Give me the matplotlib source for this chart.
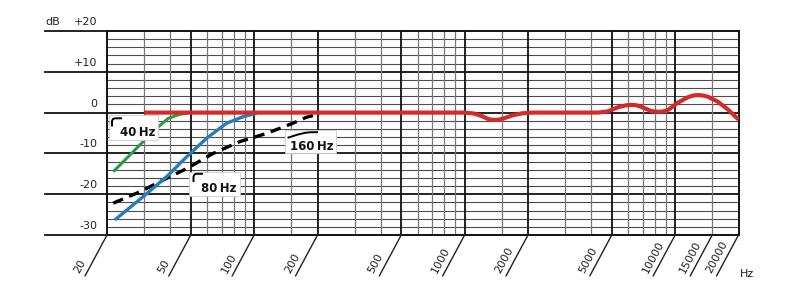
import numpy as np
import matplotlib.pyplot as plt
from matplotlib.patches import Rectangle
from matplotlib.transforms import Affine2D, blended_transform_factory, offset_copy

W, H = 785, 306

# values (frequency in Hz, level in dB)
red_f = [30, 500, 1000, 1100, 1200, 1290, 1340, 1390, 1450, 1520, 1670, 1860, 2100, 3000, 4300,
         4790, 5340, 5800, 6180, 6550, 6900, 7690, 8050, 8430, 8800, 9230, 10290, 11480,
         12100, 12800, 13500, 14280, 15920, 17780, 20000]
red_db = [0, 0, 0, -0.2, -0.8, -1.55, -1.75, -1.8, -1.75, -1.5, -0.75, -0.2, 0, 0, 0,
          0.3, 1.3, 1.75, 1.9, 1.8, 1.4, 0.4, 0.25, 0.2, 0.3, 0.6, 2.4, 3.75,
          4.15, 4.3, 4.2, 3.9, 2.7, 0.8, -1.7]

green_f = [21.4, 24.8, 29.7, 34.4, 39.1, 44.4, 47.9]
green_db = [-14.5, -11.2, -7.1, -3.85, -1.4, -0.4, -0.2]

blue_f = [21.8, 29.7, 38.4, 47.9, 59.4, 74, 88.7, 102.7]
blue_db = [-26.3, -20.6, -15.7, -10.8, -6.3, -2.6, -1.0, -0.2]

black_f = [21.4, 28.7, 38.4, 47.9, 63.9, 85.6, 114.6, 153, 177, 205]
black_db = [-22.2, -19.4, -16.1, -13.7, -10, -7.1, -5.1, -2.6, -1.15, -0.3]

major_f = [50, 100, 200, 500, 1000, 2000, 5000, 10000]
minor_f = [30, 40, 60, 70, 80, 90, 150, 300, 400, 600, 700, 800, 900, 1500,
           3000, 4000, 6000, 7000, 8000, 9000, 15000]
tick_f = [20, 50, 100, 200, 500, 1000, 2000, 5000, 10000, 15000, 20000]
tick_labels = ['20', '50', '100', '200', '500', '1000', '2000', '5000', '10000', '15000', '20000']
db_major = [20, 10, 0, -10, -20, -30]
db_labels = ['+20', '+10', '0', '-10', '-20', '-30']

plt.rcParams['font.family'] = 'DejaVu Sans'

fig = plt.figure(figsize=(W / 100, H / 100), dpi=100)
ax = fig.add_axes([107 / W, 1 - 235 / H, 631.5 / W, 204 / H])
ax.set_xscale('log')
ax.set_xlim(20, 20000)
ax.set_ylim(-30, 20)
ax.set_xticks([])
ax.set_yticks([])
ax.minorticks_off()
for s in ax.spines.values():
    s.set_linewidth(1.4)
    s.set_color('#111111')

# grid
for y in range(-28, 20, 2):
    if y % 10 == 0:
        ax.axhline(y, color='#111111', lw=1.3, zorder=1)
    else:
        ax.axhline(y, color='#4d4d4d', lw=0.8, zorder=1)
for f in minor_f:
    ax.axvline(f, color='#777777', lw=0.9, zorder=1)
for f in major_f:
    ax.axvline(f, color='#111111', lw=1.3, zorder=1)

# major dB lines run out to the left with their labels
btr = blended_transform_factory(ax.transAxes, ax.transData)
for v, lab in zip(db_major, db_labels):
    ax.plot([-62 / 631.5, 0], [v, v], color='#111111', lw=1.3, transform=btr, clip_on=False)
    ax.text(-9.5 / 631.5, v, lab, transform=offset_copy(btr, fig, y=4, units='dots'),
            ha='right', va='bottom', fontsize=8, color='#222222')
ax.text(-62 / 631.5, 20, 'dB', transform=offset_copy(btr, fig, y=4, units='dots'),
        ha='left', va='bottom', fontsize=8, color='#222222')

# curves
ax.plot(green_f, green_db, color='#2f9a46', lw=2.2, zorder=3, solid_capstyle='butt')
ax.plot(black_f, black_db, color='black', lw=2.4, ls=(0, (3.2, 2)), zorder=4)
ax.plot(blue_f, blue_db, color='#2a7bbd', lw=2.4, zorder=5, solid_capstyle='butt')
ax.plot(red_f, red_db, color='#d32a2a', lw=3, zorder=6, solid_capstyle='butt',
        solid_joinstyle='round')

# slanted frequency labels
k = 0.72  # pixels -> points
for f, lab in zip(tick_f, tick_labels):
    ax.annotate('', xy=(f, -30), xytext=(-22 * k, -41 * k), textcoords='offset points',
                annotation_clip=False,
                arrowprops=dict(arrowstyle='-', lw=1, color='#222222', shrinkA=0, shrinkB=0))
    ax.annotate(lab, xy=(f, -30), xytext=(-26 * k, -40 * k), textcoords='offset points',
                annotation_clip=False, rotation=62, rotation_mode='anchor',
                ha='left', va='bottom', fontsize=8, color='#222222')
fig.text(740 / W, 1 - 277 / H, 'Hz', fontsize=8, color='#222222', ha='left', va='baseline')

# filter callouts (pixel layout, origin top-left)
px = Affine2D().scale(1 / W, -1 / H).translate(0, 1) + fig.transFigure


def callout(box, text, tx, ty, sym):
    x0, y0, x1, y1 = box
    fig.patches.append(Rectangle((x0, y1), x1 - x0, y0 - y1, transform=px,
                                 facecolor='white', edgecolor='#cccccc', lw=0.6, zorder=7))
    xs, ys = zip(*sym)
    fig.lines.append(plt.Line2D(xs, ys, transform=px, color='black', lw=1.4, zorder=8))
    fig.text(tx / W, 1 - ty / H, text, fontsize=8.5, fontweight='bold', color='#111111',
             ha='left', va='baseline', zorder=9)


callout((109, 114.5, 157.5, 139.5), '40\u2009Hz', 119.5, 135.8,
        [(112, 125.5), (112, 121), (113, 119), (115, 118.3), (121, 118.3)])
callout((189, 171.5, 240, 195.5), '80\u2009Hz', 201, 191.8,
        [(193.5, 181), (193.5, 176.5), (194.5, 174.5), (196.5, 173.8), (202, 173.8)])
callout((285, 130, 336, 153), '160\u2009Hz', 289.5, 149.5,
        [(288.5, 137.5), (298, 134.5), (305, 132.8), (311, 132.2), (317, 132.2)])

fig.savefig('out.png', dpi=100)
